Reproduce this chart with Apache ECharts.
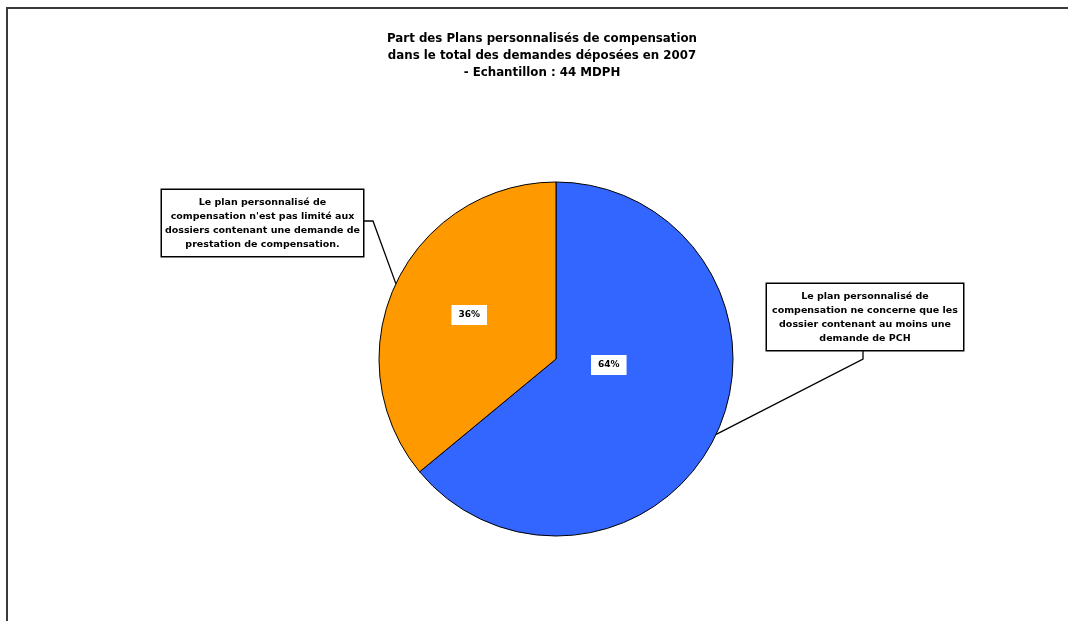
<!DOCTYPE html>
<html>
<head>
<meta charset="utf-8">
<title>Part des Plans personnalisés de compensation</title>
<script src="https://cdn.jsdelivr.net/npm/echarts@6/dist/echarts.min.js"></script>
<style>
  html, body { margin: 0; padding: 0; background: #fff; }
  #chart { width: 1068px; height: 621px; }
</style>
</head>
<body>
<div id="chart"></div>
<script>
// Share of personalised compensation plans (sample of 44 MDPH)
const sliceNames = ['Concerne uniquement les demandes de PCH', 'Non limité aux demandes de PCH'];
const sliceValues = [64, 36];
const sliceColors = ['#3366FF', '#FF9900'];
const calloutTexts = [
  'Le plan personnalisé de\ncompensation ne concerne que les\ndossier contenant au moins une\ndemande de PCH',
  'Le plan personnalisé de\ncompensation n\'est pas limité aux\ndossiers contenant une demande de\nprestation de compensation.'
];
const titleLines = [
  'Part des Plans personnalisés de compensation',
  'dans le total des demandes déposées en 2007',
  '- Echantillon : 44 MDPH'
];

const FONT = '"DejaVu Sans", "Liberation Sans", Arial, sans-serif';
const CENTER = [556, 359];
const RADIUS = 177;

// Nudges for the percentage boxes inside the slices
const pctShift = [[-30, -33], [-4, -5]];

// Callout boxes: top-left corner, width, and the bend of each leader line
const calloutBoxes = [
  { x: 767, y: 284, w: 196, bend: [[863, 359], [863, 351]] },
  { x: 162, y: 190, w: 201, bend: [[373, 221], [363, 221]] }
];

const chart = echarts.init(document.getElementById('chart'), null, { renderer: 'canvas' });

const pieData = sliceNames.map((n, i) => ({
  name: n,
  value: sliceValues[i],
  itemStyle: { color: sliceColors[i] }
}));

chart.setOption({
  animation: false,
  title: {
    text: titleLines.join('\n'),
    left: 537,
    top: 25,
    textAlign: 'center',
    textStyle: {
      fontFamily: FONT,
      fontSize: 11.8,
      fontWeight: 'bold',
      color: '#000',
      lineHeight: 17
    }
  },
  graphic: [
    {
      type: 'polyline',
      shape: { points: [[7, 621], [7, 8], [1068, 8]] },
      style: { stroke: '#3a3a3a', lineWidth: 2, fill: null },
      silent: true
    }
  ],
  series: [
    {
      // Slices with their percentage boxes
      type: 'pie',
      center: CENTER,
      radius: RADIUS,
      startAngle: 90,
      clockwise: true,
      silent: true,
      itemStyle: { borderColor: '#000', borderWidth: 1 },
      label: {
        show: true,
        position: 'inside',
        formatter: '{c}%',
        fontFamily: FONT,
        fontSize: 9,
        fontWeight: 'bold',
        color: '#000',
        backgroundColor: '#fff',
        padding: [6, 7, 5, 7]
      },
      labelLine: { show: false },
      labelLayout: function (p) {
        const s = pctShift[p.dataIndex];
        return { dx: s[0], dy: s[1] };
      },
      data: pieData
    },
    {
      // Transparent copy carrying the boxed callouts and their leader lines
      type: 'pie',
      center: CENTER,
      radius: RADIUS,
      startAngle: 90,
      clockwise: true,
      silent: true,
      z: 3,
      itemStyle: { color: 'rgba(0,0,0,0)', borderWidth: 0 },
      label: {
        show: true,
        position: 'outside',
        formatter: function (p) { return calloutTexts[p.dataIndex]; },
        fontFamily: FONT,
        fontSize: 9.5,
        fontWeight: 'bold',
        color: '#000',
        lineHeight: 14,
        align: 'center',
        backgroundColor: '#fff',
        borderColor: '#000',
        borderWidth: 1.5,
        padding: [6, 0, 4, 0]
      },
      labelLine: {
        show: true,
        length: 20,
        length2: 20,
        lineStyle: { color: '#000', width: 1.3 }
      },
      labelLayout: function (p) {
        const b = calloutBoxes[p.dataIndex];
        const edge = p.labelLinePoints ? p.labelLinePoints[0] : b.bend[0];
        return {
          x: b.x + b.w / 2,
          y: b.y,
          align: 'center',
          verticalAlign: 'top',
          width: b.w,
          labelLinePoints: [edge, b.bend[0], b.bend[1]]
        };
      },
      data: pieData.map((d, i) => ({
        name: d.name,
        value: d.value,
        label: { width: calloutBoxes[i].w }
      }))
    }
  ]
});
</script>
</body>
</html>
